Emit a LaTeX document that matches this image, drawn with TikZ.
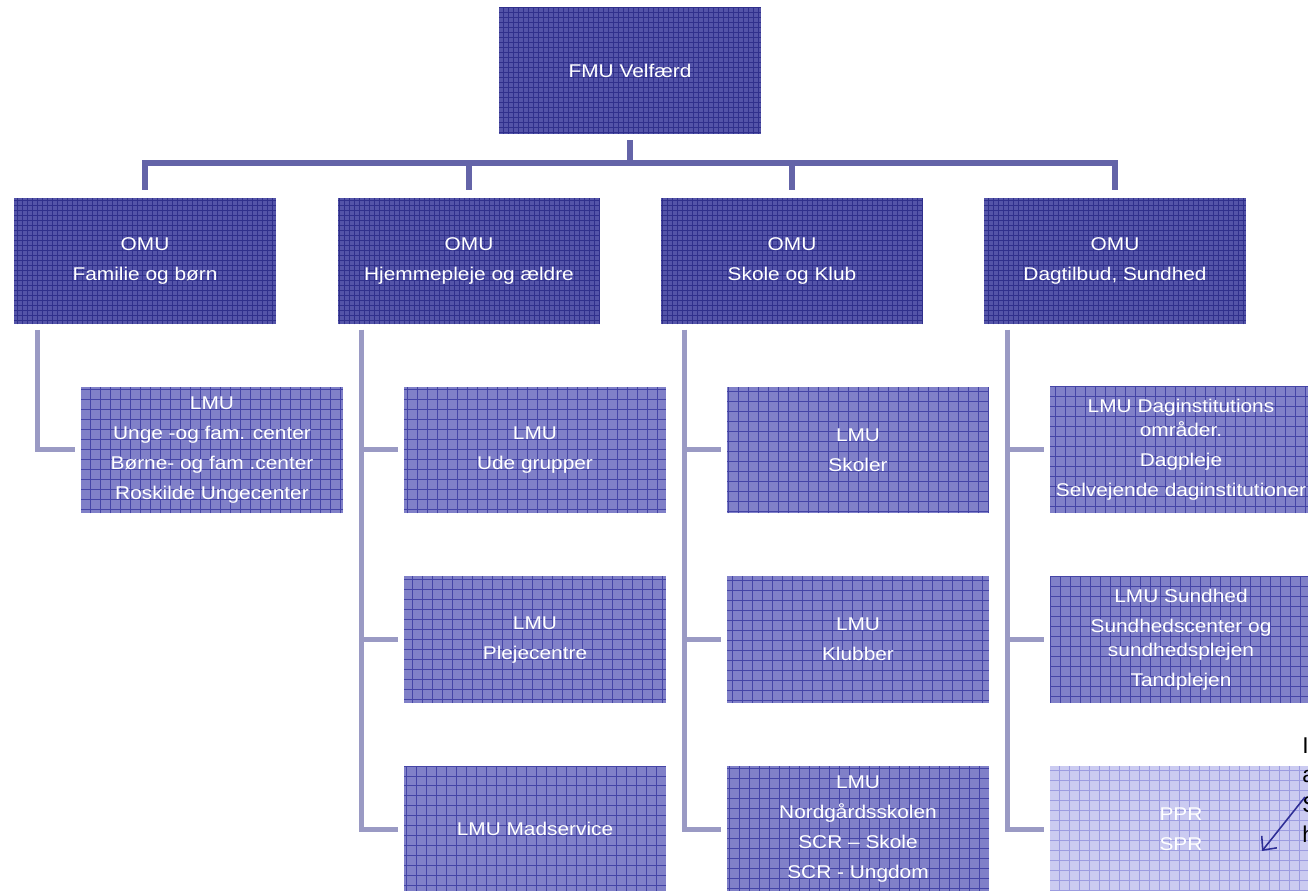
\documentclass[tikz,border=0pt]{standalone}
\usepackage{fontspec}
\setmainfont[FakeStretch=1.13]{Liberation Sans}
\newfontfamily\notefont{Liberation Sans}
\usetikzlibrary{positioning,arrows.meta}
\definecolor{darkfill}{HTML}{5454A8}
\definecolor{darkgrid}{HTML}{30308C}
\definecolor{lmufill}{HTML}{8080C8}
\definecolor{lmugrid}{HTML}{4444A6}
\definecolor{pprfill}{HTML}{CBCBF1}
\definecolor{pprgrid}{HTML}{9C9CE0}
\definecolor{buscol}{HTML}{6464A8}
\definecolor{treecol}{HTML}{9A9AC4}
\definecolor{notecol}{HTML}{2E2E96}
\tikzset{box/.style={rectangle,minimum width=5.24cm,minimum height=2.54cm,inner sep=0pt,
		align=center,text=white,font=\fontsize{10.5}{17}\selectfont},
	fmu node/.style={box,fill=darkfill,path picture={
		\draw[darkgrid,line width=0.4pt] (path picture bounding box.south west) grid[step=0.1cm] (path picture bounding box.north east);}},
	lmu node/.style={box,fill=lmufill,path picture={
		\draw[lmugrid,line width=0.5pt] (path picture bounding box.south west) grid[step=0.2cm] (path picture bounding box.north east);}},
	ppr node/.style={box,fill=pprfill,path picture={
		\draw[pprgrid,line width=0.5pt] (path picture bounding box.south west) grid[step=0.2cm] (path picture bounding box.north east);}},
	bus/.style={draw=buscol,line width=0.12cm},
	tree/.style={draw=treecol,line width=0.1cm},
}

\begin{document}
\begin{tikzpicture}[x=0.02cm,y=-0.02cm,node distance=1.24cm]
	\useasboundingbox (0,0) rectangle (1308,891);
	% top
	\node[fmu node,minimum height=2.54cm] (fmu) at (630,70.5) {FMU Velfærd};
	% OMU row
	\node[fmu node] (omu1) at (145,261) {OMU\\Familie og børn};
	\node[fmu node] (omu2) at (469,261) {OMU\\Hjemmepleje og ældre};
	\node[fmu node] (omu3) at (792,261) {OMU\\Skole og Klub};
	\node[fmu node] (omu4) at (1115,261) {OMU\\Dagtilbud, Sundhed};
	% LMU
	\node[lmu node] (lmu11) at (212,450) {LMU\\Unge -og fam. center\\Børne- og fam .center\\Roskilde Ungecenter};
	\node[lmu node] (lmu21) at (535,450) {LMU\\Ude grupper};
	\node[lmu node] (lmu22) [below=of lmu21] {LMU\\Plejecentre};
	\node[lmu node] (lmu23) [below=of lmu22] {LMU Madservice};
	\node[lmu node] (lmu31) at (858,450) {LMU\\Skoler};
	\node[lmu node] (lmu32) [below=of lmu31] {LMU\\Klubber};
	\node[lmu node] (lmu33) [below=of lmu32] {LMU\\Nordgårdsskolen\\SCR -- Skole\\SCR - Ungdom};
	\node[lmu node] (lmu41) at (1181,450) {LMU Daginstitutions\\[-3.4pt]områder.\\Dagpleje\\Selvejende daginstitutioner};
	\node[lmu node] (lmu42) [below=of lmu41] {LMU Sundhed\\Sundhedscenter og\\[-3.4pt]sundhedsplejen\\Tandplejen};
	\node[ppr node] (ppr) [below=of lmu42] {PPR\\SPR};

	% bus lines
	\path (fmu.south) ++(0,29) coordinate (bus);
	\draw[bus] ([yshift=-0.12cm]fmu.south) -- (bus);
	\foreach \n in {omu1,omu2,omu3,omu4}
		\draw[bus] (bus) -| ([yshift=0.14cm]\n.north);

	% tree lines
	\draw[tree] ([xshift=0.48cm,yshift=-0.1cm]omu1.south west) |- ([xshift=-0.12cm]lmu11.west);
	\foreach \n in {lmu21,lmu22,lmu23}
		\draw[tree] ([xshift=0.48cm,yshift=-0.1cm]omu2.south west) |- ([xshift=-0.12cm]\n.west);
	\foreach \n in {lmu31,lmu32,lmu33}
		\draw[tree] ([xshift=0.48cm,yshift=-0.1cm]omu3.south west) |- ([xshift=-0.12cm]\n.west);
	\foreach \n in {lmu41,lmu42,ppr}
		\draw[tree] ([xshift=0.48cm,yshift=-0.1cm]omu4.south west) |- ([xshift=-0.12cm]\n.west);

	% note at the right edge
	\node[anchor=west,align=left,inner sep=0pt,font=\notefont\fontsize{13}{17}\selectfont] (note) at (1302,790) {I\\a\\S\\h};
	\coordinate (notestart) at (1305,797);
	\coordinate (noteend) at (1262,851);
	\draw[notecol,line width=0.9pt,-{Straight Barb[length=6pt,width=11pt]}] (notestart) -- (noteend);
\end{tikzpicture}
\end{document}
